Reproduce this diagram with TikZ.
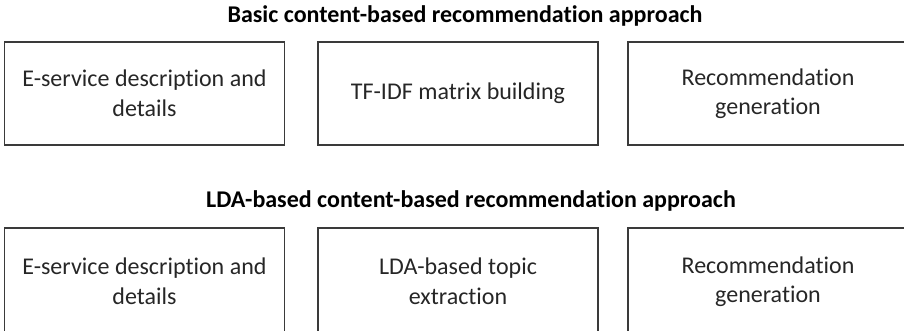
\documentclass[tikz,border=0pt]{standalone}
\usepackage{fontspec}
\setmainfont[RawFeature=-liga]{Carlito}
\begin{document}
\begin{tikzpicture}[x=1pt,y=1pt,
  stepbox/.style={draw=boxline, line width=1.4pt, rectangle, minimum width=280pt, minimum height=103pt, inner sep=0pt, align=center, text width=262pt, font=\fontsize{24}{29.5}\selectfont, text=textcol, execute at begin node={\spaceskip=5.6pt\relax}},
  ttl/.style={font=\fontsize{24}{29.5}\selectfont\bfseries, text=black, inner sep=0pt}]
\definecolor{boxline}{HTML}{3A3A3A}
\definecolor{textcol}{HTML}{262626}
\useasboundingbox (0,0) rectangle (904,330);
\clip (0,0) rectangle (904,330);
\node[ttl] (t1) at (465,314.5) {Basic content-based recommendation approach};
\node[stepbox] (a1) at (144.5,236.5) {E-service description and\\details};
\node[stepbox] (a2) at (458,236.5) {TF-IDF matrix building};
\node[stepbox] (a3) at (768,236.5) {Recommendation\\generation};
\node[ttl] (t2) at (471,129) {LDA-based content-based recommendation approach};
\node[stepbox, minimum height=107pt] (b1) at (144.5,48.5) {E-service description and\\details};
\node[stepbox, minimum height=107pt] (b2) at (458,48.5) {LDA-based topic\\extraction};
\node[stepbox, minimum height=107pt] (b3) at (768,48.5) {Recommendation\\generation};
\end{tikzpicture}
\end{document}
